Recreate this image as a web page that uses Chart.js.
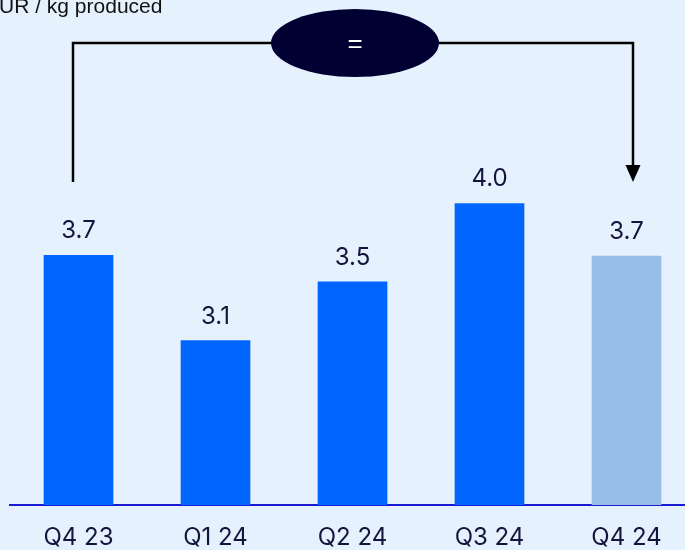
<!DOCTYPE html>
<html><head><meta charset="utf-8">
<script src="https://cdn.jsdelivr.net/npm/chart.js@4/dist/chart.umd.min.js"></script>
<style>
html,body{margin:0;padding:0;overflow:hidden;background:#E5F2FD;width:685px;height:550px}
#wrap{position:absolute;left:0;top:0;width:695px;height:550px}
</style></head>
<body><div id="wrap"><canvas id="c" width="695" height="550"></canvas></div>
<script>
const categories = ['Q4 23', 'Q1 24', 'Q2 24', 'Q3 24', 'Q4 24'];
const values = [3.657, 3.09, 3.48, 4.00, 3.652];
const barColors = ['#0066FF', '#0066FF', '#0066FF', '#0066FF', '#96BEE8'];
const unitLabel = 'EUR / kg produced';
const comparisonSymbol = '=';
const axisMin = 2.0;
const axisMax = 5.33;

const TEXT = '#14143C';

const overlay = {
  id: 'overlay',
  afterDatasetsDraw(chart) {
    const ctx = chart.ctx;
    const meta = chart.getDatasetMeta(0);
    ctx.save();
    // value labels
    ctx.font = '24px Inter';
    ctx.fillStyle = TEXT;
    ctx.textAlign = 'center';
    ctx.textBaseline = 'alphabetic';
    meta.data.forEach((bar, i) => {
      ctx.fillText((Math.round(values[i] * 10) / 10).toFixed(1), bar.x, bar.y - 17);
    });
    // bracket from first to last bar
    const first = meta.data[0], last = meta.data[meta.data.length - 1];
    const xL = first.x - 5.5, xR = last.x + 6.5;
    const yTop = 43, yBot = 182;
    ctx.strokeStyle = '#000';
    ctx.lineWidth = 2.5;
    ctx.beginPath();
    ctx.moveTo(xL, yBot); ctx.lineTo(xL, yTop); ctx.lineTo(xR, yTop); ctx.lineTo(xR, yBot - 14);
    ctx.stroke();
    ctx.fillStyle = '#000';
    ctx.beginPath();
    ctx.moveTo(xR - 7.5, yBot - 17); ctx.lineTo(xR + 7.5, yBot - 17); ctx.lineTo(xR, yBot); ctx.closePath();
    ctx.fill();
    // ellipse
    const cx = (xL + xR) / 2 + 2;
    ctx.fillStyle = '#000033';
    ctx.beginPath();
    ctx.ellipse(cx, yTop, 84, 34, 0, 0, Math.PI * 2);
    ctx.fill();
    ctx.fillStyle = '#FFFFFF';
    ctx.font = '26px "Liberation Sans"';
    ctx.textBaseline = 'middle';
    ctx.fillText(comparisonSymbol, cx, yTop + 2);
    // unit label (clipped at left edge)
    ctx.font = '21px "Liberation Sans"';
    ctx.fillStyle = '#111';
    ctx.textAlign = 'left';
    ctx.textBaseline = 'alphabetic';
    const eW = ctx.measureText(unitLabel.charAt(0)).width;
    ctx.fillText(unitLabel, -eW - 1, 13);
    ctx.restore();
  }
};

new Chart(document.getElementById('c'), {
  type: 'bar',
  data: {
    labels: categories,
    datasets: [{
      data: values,
      backgroundColor: barColors,
      borderWidth: 0,
      barThickness: 69
    }]
  },
  options: {
    responsive: false,
    animation: false,
    layout: { padding: { left: 10, right: 0, top: 3, bottom: 0 } },
    plugins: { legend: { display: false }, tooltip: { enabled: false } },
    scales: {
      x: {
        z: 1,
        grid: { display: false, drawTicks: false },
        border: { display: true, color: '#1A1AD0', width: 2 },
        ticks: { font: { family: 'Inter', size: 24, lineHeight: 1.0 }, color: TEXT, padding: 21 },
        afterFit(scale) { scale.height = 45; }
      },
      y: { display: false, min: axisMin, max: axisMax }
    }
  },
  plugins: [overlay]
});
</script>
</body></html>
